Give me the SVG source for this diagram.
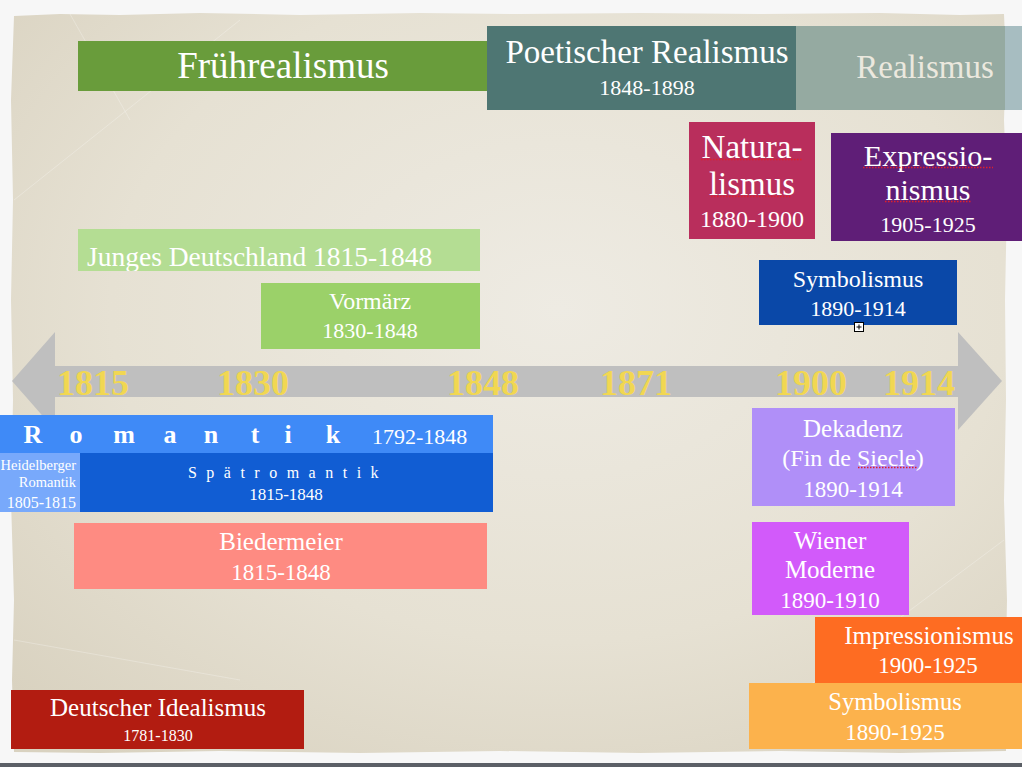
<svg xmlns="http://www.w3.org/2000/svg" width="1022" height="767" viewBox="0 0 1022 767">
<defs>
<radialGradient id="paperGrad" cx="0.55" cy="0.4" r="0.75">
<stop offset="0" stop-color="#eeebe3"/>
<stop offset="0.6" stop-color="#e6e1d3"/>
<stop offset="1" stop-color="#d9d2c0"/>
</radialGradient>
<clipPath id="clipJunges"><rect x="78" y="229" width="402" height="42"/></clipPath>
<clipPath id="clipHeid"><rect x="0" y="453" width="80" height="59"/></clipPath>
<style>
text{font-family:"Liberation Serif","Times New Roman",serif;fill:#ffffff;}
.c{text-anchor:middle;}
.r{text-anchor:end;}
.year{font-weight:bold;font-size:36px;fill:#f1d752;}
.sp{stroke:#e0202a;stroke-width:1.3;stroke-dasharray:1.5 1.5;fill:none;}
</style>
</defs>

<rect x="0" y="0" width="1022" height="767" fill="#f7f7f7"/>
<path id="paper" d="M14,16 L60,14 L120,15 L200,13 L300,15 L420,13 L520,14 L640,13 L760,14 L880,13 L960,15 L1004,14 L1006,60 L1004,120 L1007,200 L1005,300 L1006,400 L1004,500 L1007,600 L1005,700 L1006,751 L900,753 L780,751 L640,753 L500,751 L360,753 L220,751 L100,753 L14,752 L12,680 L14,600 L11,500 L13,400 L11,300 L13,200 L11,100 Z" fill="url(#paperGrad)"/>
<g stroke="#ffffff" stroke-opacity="0.25" stroke-width="1" fill="none">
<line x1="70" y1="14" x2="130" y2="120"/>
<line x1="14" y1="200" x2="240" y2="20"/>
<line x1="14" y1="640" x2="240" y2="680"/>
<line x1="790" y1="700" x2="1004" y2="540"/>
</g>
<rect x="0" y="763" width="1022" height="4" fill="#5b5f66"/>

<g id="timeline">
<rect x="55" y="366" width="903" height="31" fill="#bfbfbf"/>
<polygon points="55,332 55,430 12,381" fill="#bfbfbf"/>
<polygon points="958,332 958,430 1002,381" fill="#bfbfbf"/>
<text class="year" x="57" y="395">1815</text>
<text class="year" x="217" y="395">1830</text>
<text class="year" x="447" y="395">1848</text>
<text class="year" x="600" y="395">1871</text>
<text class="year" x="775" y="395">1900</text>
<text class="year" x="883" y="395">1914</text>
</g>

<g id="fruehrealismus">
<rect x="78" y="41" width="409" height="50" fill="#699c3b"/>
<text class="c" x="283" y="78" font-size="37">Frührealismus</text>
</g>

<g id="realismus">
<rect x="796" y="26" width="226" height="84" fill="#95aaa1"/>
<rect x="1005" y="26" width="17" height="84" fill="#a7bdc1"/>
<text class="c" x="925" y="78" font-size="33" style="fill:#ebe8de">Realismus</text>
</g>

<g id="poetischer-realismus">
<rect x="487" y="26" width="309" height="84" fill="#4e7673"/>
<text class="c" x="647" y="63" font-size="33">Poetischer Realismus</text>
<text class="c" x="647" y="95" font-size="22">1848-1898</text>
</g>

<g id="naturalismus">
<rect x="689" y="122" width="126" height="117" fill="#b92e5c"/>
<text class="c" x="752" y="158" font-size="33">Natura-</text>
<text class="c" x="752" y="195" font-size="33">lismus</text>
<text class="c" x="752" y="227" font-size="24">1880-1900</text>
<line class="sp" x1="701" y1="159.5" x2="803" y2="159.5"/>
<line class="sp" x1="711" y1="196.5" x2="791" y2="196.5"/>
</g>

<g id="expressionismus">
<rect x="831" y="133" width="191" height="108" fill="#5f1e77"/>
<text class="c" x="928" y="166" font-size="30">Expressio-</text>
<text class="c" x="928" y="200" font-size="30">nismus</text>
<text class="c" x="928" y="232" font-size="22">1905-1925</text>
<line class="sp" x1="863" y1="167.5" x2="993" y2="167.5"/>
<line class="sp" x1="885" y1="201.5" x2="972" y2="201.5"/>
</g>

<g id="junges-deutschland">
<rect x="78" y="229" width="402" height="42" fill="#b4dd93"/>
<text x="87" y="266" font-size="27.5" clip-path="url(#clipJunges)">Junges Deutschland 1815-1848</text>
</g>

<g id="vormaerz">
<rect x="261" y="283" width="219" height="66" fill="#9bd169"/>
<text class="c" x="370" y="309" font-size="24">Vormärz</text>
<text class="c" x="370" y="338" font-size="22">1830-1848</text>
</g>

<g id="symbolismus-1890-1914">
<rect x="759" y="260" width="198" height="65" fill="#0a48a8"/>
<text class="c" x="858" y="287" font-size="24">Symbolismus</text>
<text class="c" x="858" y="316" font-size="22">1890-1914</text>
<rect x="854.5" y="322.5" width="9" height="9" fill="#ffffff" stroke="#000000" stroke-width="1"/>
<path d="M856.5,327 H861.5 M859,324.5 V329.5" stroke="#000000" stroke-width="1"/>
</g>

<g id="romantik">
<rect x="0" y="415" width="493" height="38" fill="#3f8af7"/>
<text class="c" x="33 76 124 170 211 255 288 333" y="443" font-size="26" font-weight="bold">Romantik</text>
<text x="372" y="444" font-size="22">1792-1848</text>
</g>

<g id="heidelberger-romantik">
<rect x="0" y="453" width="80" height="59" fill="#78a9fb"/>
<g clip-path="url(#clipHeid)">
<text class="r" x="76" y="470" font-size="14.5">Heidelberger</text>
<text class="r" x="76" y="487" font-size="14.5">Romantik</text>
<text class="r" x="76" y="508" font-size="16">1805-1815</text>
</g>
</g>

<g id="spaetromantik">
<rect x="80" y="453" width="413" height="59" fill="#115dd3"/>
<text class="c" x="288" y="478" font-size="16" letter-spacing="9.5">Spätromantik</text>
<text class="c" x="286" y="500" font-size="17">1815-1848</text>
</g>

<g id="biedermeier">
<rect x="74" y="523" width="413" height="66" fill="#fe8b82"/>
<text class="c" x="281" y="550" font-size="25">Biedermeier</text>
<text class="c" x="281" y="580" font-size="23">1815-1848</text>
</g>

<g id="deutscher-idealismus">
<rect x="11" y="690" width="293" height="59" fill="#b21c11"/>
<text class="c" x="158" y="716" font-size="25">Deutscher Idealismus</text>
<text class="c" x="158" y="741" font-size="16">1781-1830</text>
</g>

<g id="dekadenz">
<rect x="752" y="408" width="203" height="98" fill="#b08ff8"/>
<text class="c" x="853" y="437" font-size="25">Dekadenz</text>
<text class="c" x="853" y="466" font-size="24">(Fin de Siecle)</text>
<text class="c" x="853" y="497" font-size="23">1890-1914</text>
<line class="sp" x1="858" y1="467.5" x2="918" y2="467.5"/>
</g>

<g id="wiener-moderne">
<rect x="752" y="522" width="157" height="93" fill="#d25afa"/>
<text class="c" x="830" y="549" font-size="25">Wiener</text>
<text class="c" x="830" y="578" font-size="25">Moderne</text>
<text class="c" x="830" y="608" font-size="23">1890-1910</text>
</g>

<g id="impressionismus">
<rect x="815" y="617" width="207" height="66" fill="#fe6c22"/>
<text class="c" x="929" y="644" font-size="25">Impressionismus</text>
<text class="c" x="928" y="673" font-size="23">1900-1925</text>
</g>

<g id="symbolismus-1890-1925">
<rect x="749" y="683" width="273" height="66" fill="#fcb24c"/>
<text class="c" x="895" y="710" font-size="24.5">Symbolismus</text>
<text class="c" x="895" y="740" font-size="23">1890-1925</text>
</g>
</svg>
